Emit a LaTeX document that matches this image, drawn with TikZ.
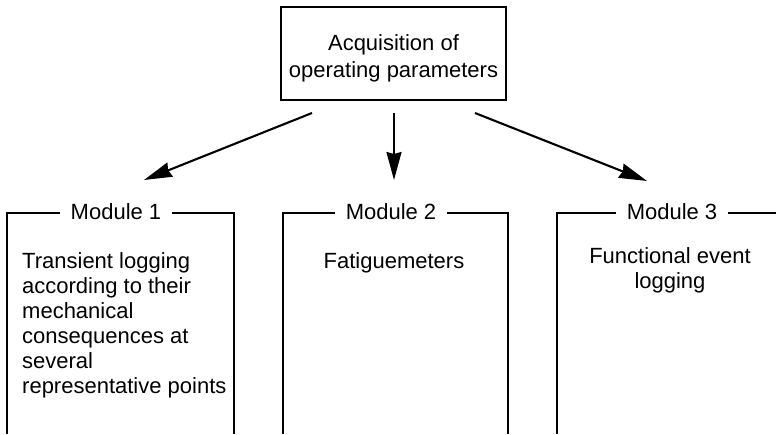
\documentclass[tikz,border=0pt]{standalone}
\usepackage{fontspec}
\setmainfont{Liberation Sans}
\usetikzlibrary{arrows.meta}
\begin{document}
\begin{tikzpicture}[x=1pt,y=-1pt,
  every node/.style={font=\fontsize{22}{25}\selectfont, inner sep=0pt},
  frame/.style={line width=2.1pt, line join=miter},
  arr/.style={line width=2.1pt, -{Stealth[length=28pt,width=15pt,inset=2pt]}},
  modtitle/.style={fill=white, inner xsep=11pt, inner ysep=2pt, anchor=base},
  body/.style={align=left, anchor=base west}]
\useasboundingbox (0,0) rectangle (776,434);
% top box
\node[draw, line width=2.1pt, minimum width=225pt, minimum height=93pt] (top) at (393.5,53.5) {};
\node[align=center, anchor=base, font=\fontsize{22}{27}\selectfont] (toptext) at (393.5,77) {Acquisition of\\operating parameters};
% module frames
\draw[frame] (7,434) -- (7,213) -- (234,213) -- (234,434);
\draw[frame] (283,434) -- (283,213) -- (508,213) -- (508,434);
\draw[frame] (557,434) -- (557,213) -- (776,213);
% titles
\node[modtitle] (m1) at (116,219) {Module 1};
\node[modtitle] (m2) at (391,219) {Module 2};
\node[modtitle] (m3) at (672,219) {Module 3};
% bodies (base anchor = baseline of the last line)
\node[body] (m1text) at (22,393) {Transient logging\\according to their\\mechanical\\consequences at\\several\\representative points};
\node[anchor=base] (m2text) at (394,268) {Fatiguemeters};
\node[align=center, anchor=base] (m3text) at (670,288) {Functional event\\logging};
% arrows
\coordinate (a1s) at (312,113);
\coordinate (a1e) at (144,180);
\coordinate (a2s) at (394,113);
\coordinate (a2e) at (394,180);
\coordinate (a3s) at (475,113);
\coordinate (a3e) at (647,181);
\draw[arr] (a1s) -- (a1e);
\draw[arr] (a2s) -- (a2e);
\draw[arr] (a3s) -- (a3e);
\end{tikzpicture}
\end{document}
